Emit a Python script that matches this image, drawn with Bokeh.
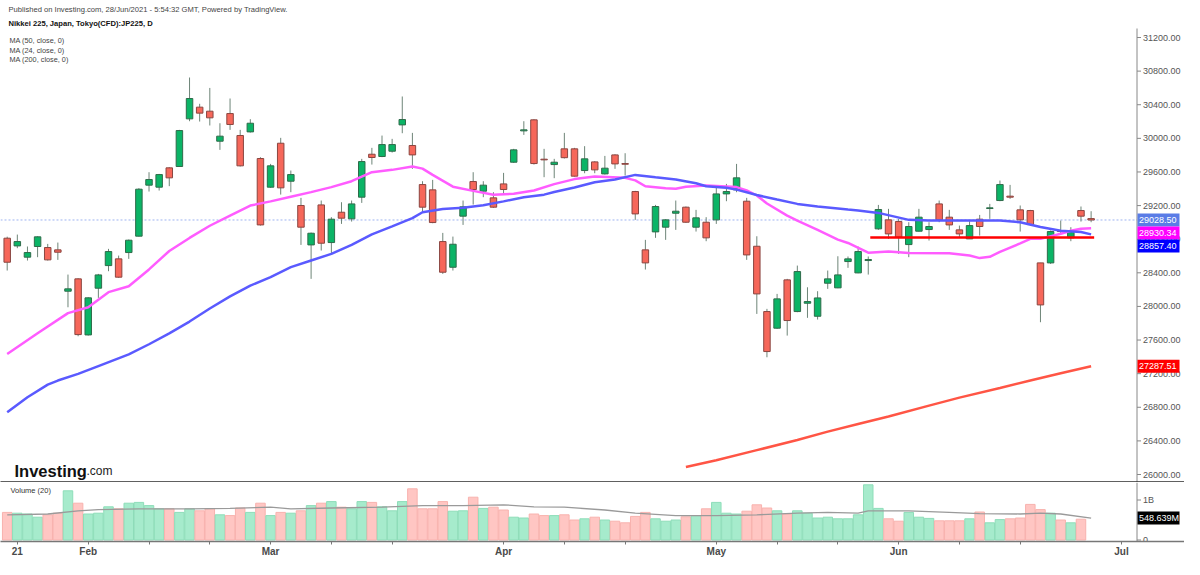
from bokeh.plotting import figure
from bokeh.layouts import column
from bokeh.models import ColumnDataSource, Range1d, FixedTicker, Label
from bokeh.core.properties import value
from bokeh.embed import file_html
from bokeh.resources import INLINE

# ---------------- data ----------------
opens = [28812, 28720, 28586, 28713, 28701, 28673, 28181, 28328, 27661, 28217,
         28486, 28566, 28641, 28836, 29443, 29419, 29649, 29665, 30232, 30371,
         30323, 29966, 30295, 30034, 30077, 29760, 29419, 29942, 29490, 29201,
         28732, 29208, 28760, 29121, 29042, 29300, 29811, 29784, 29847, 30160,
         29915, 29450, 29387, 28772, 28466, 29074, 29486, 29371, 29292, 29458,
         29716, 30089, 30220, 29752, 29688, 29875, 29875, 29617, 29720, 29577,
         29803, 29700, 29367, 28673, 28887, 28943, 29109, 29181, 28943, 29002,
         29030, 29339, 29387, 29252, 28716, 27939, 27741, 28316, 27939, 28038,
         27883, 28276, 28221, 28534, 28399, 28546, 28923, 29030, 29010, 28736,
         28895, 28915, 29220, 29062, 28911, 28804, 29038, 29165, 29260, 29312,
         29149, 29141, 28518, 28518, 28899, 28816, 29141, 29045]
highs = [28830, 28855, 28713, 28835, 28744, 28760, 28379, 28336, 28110, 28387,
         28685, 28605, 28796, 29407, 29597, 29577, 29657, 30101, 30724, 30411,
         30600, 30180, 30474, 30101, 30228, 29776, 29696, 30006, 29617, 29292,
         28879, 29260, 29062, 29240, 29260, 29756, 29887, 30033, 29994, 30498,
         30065, 29490, 29506, 28875, 28831, 29260, 29597, 29490, 29359, 29589,
         29875, 30204, 30228, 29875, 29756, 30065, 29887, 29907, 29728, 29791,
         29811, 29823, 29375, 28792, 29208, 29038, 29260, 29189, 29149, 29062,
         29438, 29458, 29696, 29292, 28835, 27971, 28149, 28328, 28486, 28228,
         28181, 28427, 28597, 28594, 28712, 28594, 29208, 29161, 29042, 29002,
         29161, 29002, 29260, 29149, 28962, 29014, 29089, 29220, 29498, 29446,
         29201, 29149, 28518, 28903, 29022, 28943, 29189, 29133]
lows = [28427, 28693, 28546, 28586, 28546, 28554, 27990, 27645, 27653, 28102,
        28419, 28340, 28566, 28832, 29367, 29379, 29431, 29661, 30204, 30200,
        30153, 29863, 30101, 29665, 30069, 28962, 29411, 29331, 29359, 28732,
        28328, 28665, 28633, 28982, 29010, 29232, 29688, 29776, 29831, 30061,
        29637, 29121, 28990, 28387, 28427, 28970, 29212, 29300, 29173, 29339,
        29708, 30041, 29688, 29538, 29526, 29760, 29546, 29585, 29585, 29569,
        29637, 29557, 29030, 28439, 28816, 28792, 28911, 28994, 28891, 28776,
        28982, 29252, 29359, 28554, 27911, 27395, 27733, 27653, 27931, 27864,
        27844, 28209, 28217, 28459, 28395, 28379, 28911, 28804, 28625, 28586,
        28891, 28784, 29002, 28911, 28816, 28804, 28843, 29042, 29252, 29280,
        28891, 28970, 27812, 28506, 28871, 28776, 29010, 29002]
closes = [28526, 28772, 28641, 28828, 28554, 28645, 28209, 27665, 28102, 28375,
          28653, 28348, 28788, 29395, 29510, 29569, 29530, 30093, 30474, 30300,
          30244, 30026, 30165, 29673, 30180, 28970, 29673, 29411, 29569, 28943,
          28871, 28752, 29038, 29050, 29220, 29724, 29772, 29926, 29926, 30224,
          29803, 29181, 28998, 28407, 28740, 29185, 29391, 29443, 29181, 29391,
          29863, 30101, 29700, 29744, 29716, 29770, 29550, 29756, 29625, 29645,
          29696, 29692, 29101, 28518, 29189, 29030, 29133, 29002, 29054, 28816,
          29339, 29367, 29530, 28613, 28149, 27463, 28090, 27832, 28415, 28058,
          28101, 28328, 28375, 28566, 28653, 28558, 29153, 28863, 28824, 28951,
          29062, 28951, 29030, 28970, 28863, 28962, 28951, 29173, 29450, 29300,
          29030, 28974, 28018, 28891, 28891, 28891, 29074, 29028.5]
# volume in billions (the last session has no volume bar yet)
volumes = [0.69, 0.67, 0.65, 0.57, 0.63, 0.67, 1.23, 0.92, 0.65, 0.67,
           0.83, 0.78, 0.92, 0.94, 0.86, 0.78, 0.78, 0.69, 0.78, 0.73,
           0.78, 0.63, 0.61, 0.80, 0.69, 0.92, 0.61, 0.69, 0.67, 0.73,
           0.86, 0.92, 0.96, 0.82, 0.78, 0.96, 0.94, 0.83, 0.73, 0.96,
           1.28, 0.78, 0.78, 0.96, 0.72, 0.73, 1.07, 0.79, 0.82, 0.75,
           0.57, 0.55, 0.65, 0.61, 0.61, 0.63, 0.50, 0.53, 0.57, 0.50,
           0.47, 0.43, 0.59, 0.69, 0.53, 0.47, 0.50, 0.58, 0.61, 0.78,
           0.94, 0.67, 0.65, 0.72, 0.88, 0.80, 0.73, 0.65, 0.73, 0.67,
           0.55, 0.57, 0.53, 0.53, 0.63, 1.38, 0.79, 0.53, 0.47, 0.69,
           0.57, 0.54, 0.48, 0.48, 0.48, 0.53, 0.70, 0.43, 0.51, 0.53,
           0.55, 0.89, 0.76, 0.67, 0.50, 0.43, 0.52, float("nan")]

# moving averages at bar positions
ma24_x = [0, 3, 6, 8, 10, 12, 14, 16, 18, 20, 22, 24, 26, 28, 30, 32, 34, 36, 38, 40,
          41, 42, 44, 46, 48, 50, 52, 54, 56, 58, 61, 62, 63, 65, 66, 67, 69, 72, 73, 74,
          75, 77, 78, 80, 82, 83, 85, 87, 89, 93, 95, 96, 97, 98, 100, 101, 102, 104, 105, 106, 107]
ma24_y = [27435, 27680, 27920, 27990, 28170, 28240, 28440, 28660, 28815, 28960, 29080, 29200,
          29250, 29305, 29360, 29420, 29490, 29597, 29625, 29665, 29640, 29565, 29425, 29375,
          29330, 29340, 29380, 29455, 29515, 29545, 29530, 29500, 29430, 29405, 29400, 29425,
          29438, 29420, 29380, 29320, 29225, 29080, 29020, 28910, 28795, 28755, 28640, 28655,
          28635, 28633, 28605, 28575, 28590, 28650, 28750, 28804, 28804, 28865, 28900, 28925, 28930.34]
ma50_x = [0, 2, 4, 5, 7, 9, 12, 14, 16, 18, 20, 22, 24, 26, 28, 30, 32, 34, 36, 38, 40, 41,
          43, 45, 47, 49, 51, 53, 54, 56, 58, 60, 62, 64, 66, 68, 69, 71, 72, 74, 76, 78, 80,
          83, 84, 86, 89, 91, 95, 98, 100, 102, 104, 106, 107]
ma50_y = [26740, 26920, 27070, 27118, 27197, 27290, 27430, 27550, 27680, 27820, 27975, 28120,
          28248, 28348, 28467, 28546, 28625, 28732, 28858, 28953, 29050, 29121, 29160, 29175,
          29205, 29250, 29298, 29330, 29362, 29415, 29478, 29510, 29565, 29536, 29510, 29465,
          29430, 29411, 29390, 29325, 29272, 29220, 29190, 29152, 29141, 29113, 29030, 29022,
          29022, 29022, 29002, 28945, 28900, 28885, 28857.40]
ma200_x = [67, 70, 74, 78, 81, 84, 87, 91, 94, 98, 101, 104, 107]
ma200_y = [26090, 26170, 26290, 26410, 26510, 26600, 26690, 26820, 26915, 27030, 27118, 27205, 27287.51]
vma_x = [0, 4, 7, 9, 13, 18, 22, 26, 28, 32, 37, 41, 45, 49, 52, 55, 59, 62, 66, 70, 74, 78,
         81, 84, 85, 89, 93, 96, 100, 102, 104, 107]
vma_y = [0.63, 0.65, 0.73, 0.76, 0.78, 0.78, 0.79, 0.82, 0.78, 0.80, 0.82, 0.86, 0.86, 0.88,
         0.83, 0.82, 0.75, 0.67, 0.61, 0.61, 0.63, 0.67, 0.69, 0.67, 0.73, 0.73, 0.69, 0.66,
         0.65, 0.67, 0.65, 0.548639]

month_ticks = [1, 8, 26, 49, 70, 88, 110]
month_labels = ["21", "Feb", "Mar", "Apr", "May", "Jun", "Jul"]
week_ticks = [14, 20, 32, 38, 55, 61, 76, 82, 94, 100]
price_ticks = [26000, 26400, 26800, 27200, 27600, 28000, 28400, 28800, 29200, 29600,
               30000, 30400, 30800, 31200]
vol_ticks = [0, 1]
vol_tick_labels = ["0", "1B"]
last_price = 29028.50
last_volume_ma = "548.639M"
support_level = 28820
support_span = [85.2, 107.3]

# ---------------- geometry ----------------
FONT = "Liberation Sans"
TOTAL_W = 1184
AXIS_PX = 1136.5       # where the right scale starts
PRICE_H = 482
VOL_H = 59
STEP = 10.13           # px per bar
PX0 = 6.7              # px of bar 0
PPP = 0.08404          # px per price point
VPB = 40.0             # px per 1B of volume


def px_x(page_x):
    return (page_x - PX0) / STEP


def px_y(page_y):
    return 31200 - (page_y - 37) / PPP


def y_px(price):
    return 37 + (31200 - price) * PPP


x0 = px_x(0)
x1 = px_x(TOTAL_W)
y_top = px_y(0)
y_bot = px_y(PRICE_H)
AX = px_x(AXIS_PX)
TICK_END = px_x(AXIS_PX + 4)
LBL_X = px_x(AXIS_PX + 6)
TAG_CX = px_x(AXIS_PX + 21.5)
TAG_TX = px_x(AXIS_PX + 2)

n = len(closes)
idx = list(range(n))
up = [c >= o for o, c in zip(opens, closes)]
src = ColumnDataSource(dict(
    x=idx, o=opens, h=highs, l=lows, c=closes,
    top=[max(o, c) for o, c in zip(opens, closes)],
    bot=[min(o, c) for o, c in zip(opens, closes)],
    fill=["#0BB466" if u else "#F6675A" for u in up],
    edge=["#2F6B4A" if u else "#8A4640" for u in up],
    vol=volumes,
    vfill=["#A6EBCC" if u else "#FFC6C3" for u in up],
    vedge=["#8EDDB9" if u else "#F8B2AE" for u in up],
))

xr = Range1d(x0, x1)

# ---------------- price panel ----------------
p = figure(frame_width=TOTAL_W, frame_height=PRICE_H, x_range=xr, y_range=Range1d(y_bot, y_top),
           output_backend="svg", toolbar_location=None, y_axis_location=None,
           min_border_left=0, min_border_top=0, min_border_bottom=0, min_border_right=0)
p.background_fill_color = "white"
p.border_fill_color = "white"
p.outline_line_color = None
p.grid.visible = False

# bottom axis of the price panel = the dark separator line
p.xaxis.ticker = FixedTicker(ticks=[])
p.xaxis.major_tick_out = 0
p.xaxis.major_tick_in = 0
p.xaxis.minor_tick_out = 0
p.xaxis.minor_tick_in = 0
p.xaxis.major_label_standoff = 0
p.xaxis.axis_line_width = 2.5
p.xaxis.axis_line_color = "#2b2b2b"

# last price dotted line
p.segment(x0=[x0], y0=[last_price], x1=[AX], y1=[last_price], line_color="#9fb3f0",
          line_dash="2 2", line_width=1)

# candles
p.segment(x0="x", y0="h", x1="x", y1="l", source=src, line_color="#6E8578", line_width=1)
p.vbar(x="x", width=0.64, top="top", bottom="bot", source=src,
       fill_color="fill", line_color="edge", line_width=1)

# moving averages and support line
p.line(ma200_x, ma200_y, line_color="#FF5545", line_width=2.5)
p.line(ma24_x, ma24_y, line_color="#FF5CFF", line_width=2.5)
p.line(ma50_x, ma50_y, line_color="#5A5AFF", line_width=2.5)
p.line(support_span, [support_level, support_level], line_color="#FF0000", line_width=2.5)

# right price scale
p.segment(x0=[AX], y0=[y_bot], x1=[AX], y1=[px_y(28)], line_color="#888888", line_width=1)
p.segment(x0=[AX] * len(price_ticks), y0=price_ticks, x1=[TICK_END] * len(price_ticks),
          y1=price_ticks, line_color="#888888", line_width=1)
p.text(x=[LBL_X] * len(price_ticks), y=price_ticks, text=["%.2f" % t for t in price_ticks],
       text_font=value(FONT), text_font_size="9px", text_color="#555555",
       text_baseline="middle", text_align="left")

# value tags on the scale (stacked so they do not overlap)
tag_vals = [last_price, ma24_y[-1], ma50_y[-1], ma200_y[-1]]
tag_cols = ["#5A7CE6", "#FF00FF", "#0000FF", "#FF0000"]
tag_ys = []
prev = -1e9
for v in tag_vals:
    ypx = max(y_px(v), prev + 13)
    tag_ys.append(px_y(ypx))
    prev = ypx
p.rect(x=[TAG_CX] * 4, y=tag_ys, width=42, height=13, width_units="screen",
       height_units="screen", fill_color=tag_cols, line_color=None)
p.text(x=[TAG_TX] * 4, y=tag_ys, text=["%.2f" % v for v in tag_vals], text_font=value(FONT),
       text_font_size="9px", text_color="white", text_baseline="middle", text_align="left")


def txt(x, y, s, size, color="#333333", style="normal"):
    p.add_layout(Label(x=x, y=y, text=s, text_font=FONT, text_font_size=size,
                       text_color=color, text_font_style=style, text_baseline="middle",
                       text_align="left"))


txt(px_x(8), px_y(8.5), "Published on Investing.com, 28/Jun/2021 - 5:54:32 GMT, Powered by TradingView.",
    "7.6px", "#444444")
txt(px_x(8), px_y(22.5), "Nikkei 225, Japan, Tokyo(CFD):JP225, D", "7.6px", "#111111", "bold")
txt(px_x(9), px_y(40), "MA (50, close, 0)", "7.3px", "#444444")
txt(px_x(9), px_y(49.5), "MA (24, close, 0)", "7.3px", "#444444")
txt(px_x(9), px_y(58.5), "MA (200, close, 0)", "7.3px", "#444444")
p.add_layout(Label(x=px_x(14), y=px_y(470), text="Investing", text_font=FONT,
                   text_font_size="16.5px", text_font_style="bold", text_color="#111111",
                   text_baseline="alphabetic"))
p.add_layout(Label(x=px_x(86), y=px_y(470), text=".com", text_font=FONT,
                   text_font_size="12px", text_color="#222222", text_baseline="alphabetic"))

# ---------------- volume panel ----------------
v_lo = -1.5 / VPB
v_hi = (VOL_H - 1.5) / VPB
pv = figure(frame_width=TOTAL_W, frame_height=VOL_H, x_range=xr, y_range=Range1d(v_lo, v_hi),
            output_backend="svg", toolbar_location=None, y_axis_location=None,
            min_border_left=0, min_border_top=0, min_border_bottom=0, min_border_right=0)
pv.outline_line_color = None
pv.grid.visible = False
pv.vbar(x="x", width=0.94, top="vol", bottom=0, source=src,
        fill_color="vfill", line_color="vedge", line_width=1)
pv.line(vma_x, vma_y, line_color="#9a9a9a", line_width=1.3)

xa = pv.xaxis[0]
xa.ticker = FixedTicker(ticks=month_ticks, minor_ticks=week_ticks)
xa.major_label_overrides = {t: s for t, s in zip(month_ticks, month_labels)}
xa.major_label_text_font = FONT
xa.major_label_text_font_size = "10px"
xa.major_label_text_font_style = "bold"
xa.major_label_text_color = "#4a4a4a"
xa.major_label_standoff = 1
xa.major_tick_out = 3
xa.major_tick_in = 0
xa.minor_tick_out = 3
xa.minor_tick_in = 0
xa.axis_line_color = "#777777"
xa.axis_line_width = 1.5
xa.major_tick_line_color = "#777777"
xa.minor_tick_line_color = "#777777"

# right volume scale
pv.segment(x0=[AX], y0=[v_lo], x1=[AX], y1=[v_hi], line_color="#888888", line_width=1)
pv.segment(x0=[AX] * 2, y0=vol_ticks, x1=[TICK_END] * 2, y1=vol_ticks,
           line_color="#888888", line_width=1)
pv.text(x=[LBL_X] * 2, y=vol_ticks, text=vol_tick_labels, text_font=value(FONT),
        text_font_size="9px", text_color="#555555", text_baseline="middle", text_align="left")
pv.rect(x=[TAG_CX], y=[vma_y[-1]], width=42, height=13, width_units="screen",
        height_units="screen", fill_color="black", line_color=None)
pv.text(x=[TAG_TX], y=[vma_y[-1]], text=[last_volume_ma], text_font=value(FONT),
        text_font_size="9px", text_color="white", text_baseline="middle", text_align="left")

pv.add_layout(Label(x=px_x(10), y=v_hi - 8 / VPB, text="Volume (20)", text_font=FONT,
                    text_font_size="7.5px", text_color="#333333", text_baseline="middle"))

layout = column(p, pv, spacing=0)
open("out.html", "w").write(file_html(layout, INLINE))
